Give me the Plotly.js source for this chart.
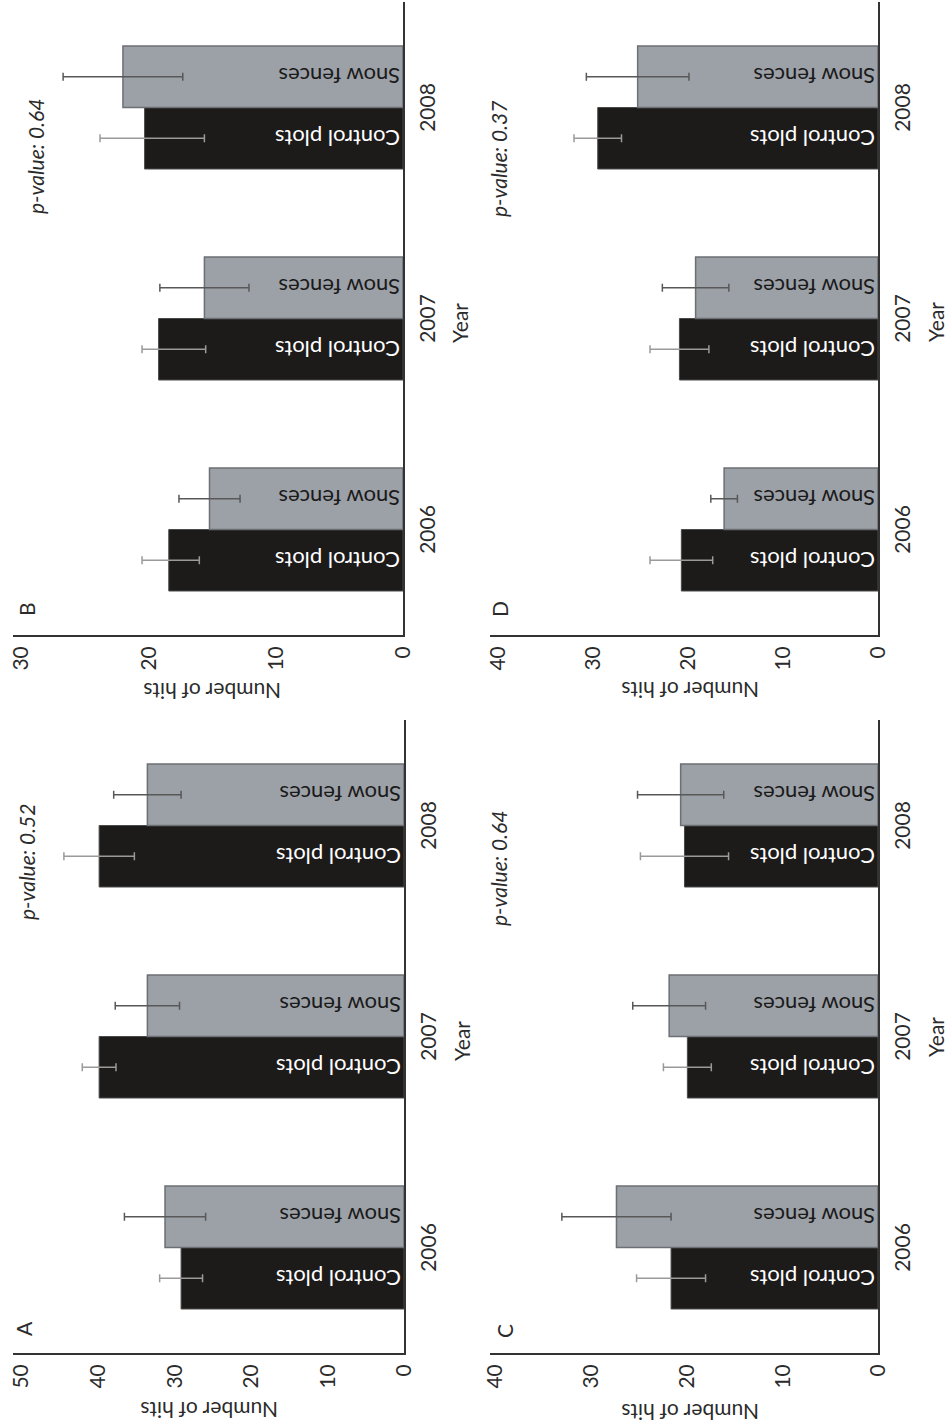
<!DOCTYPE html>
<html><head><meta charset="utf-8">
<script src="https://cdn.plot.ly/plotly-3.0.1.min.js"></script>
<style>
html,body{margin:0;padding:0;width:947px;height:1427px;overflow:hidden;background:#fff}
#wrap{position:absolute;left:0;top:0;width:1427px;height:947px;transform-origin:0 0;transform:rotate(-90deg) translateX(-1427px);}
#chart{width:1427px;height:947px}
</style></head><body>
<div id="wrap"><div id="chart"></div></div>
<script>
// ---- data ----
const years = ['2006', '2007', '2008'];
const seriesNames = ['Control plots', 'Snow fences'];

const A_control = [29.1, 39.8, 39.8];
const A_control_err_up = [2.8, 2.2, 4.6];
const A_control_err_down = [2.8, 2.2, 4.6];
const A_snow = [31.2, 33.5, 33.5];
const A_snow_err = [5.3, 4.2, 4.4];

const B_control = [18.4, 19.2, 20.3];
const B_control_err_up = [2.1, 1.3, 3.5];
const B_control_err_down = [2.4, 3.7, 4.7];
const B_snow = [15.2, 15.6, 22.0];
const B_snow_err = [2.4, 3.5, 4.7];

const C_control = [21.6, 19.9, 20.2];
const C_control_err_up = [3.6, 2.5, 4.6];
const C_control_err_down = [3.6, 2.5, 4.6];
const C_snow = [27.3, 21.8, 20.6];
const C_snow_err = [5.7, 3.8, 4.5];

const D_control = [20.7, 20.9, 29.5];
const D_control_err_up = [3.3, 3.1, 2.5];
const D_control_err_down = [3.3, 3.1, 2.5];
const D_snow = [16.2, 19.2, 25.3];
const D_snow_err = [1.4, 3.5, 5.4];

const panelLabels = ['A', 'B', 'C', 'D'];
const pValueLabels = ['p-value: 0.52', 'p-value: 0.64', 'p-value: 0.64', 'p-value: 0.37'];
const valueAxisTitle = 'Number of hits';
const categoryAxisTitle = 'Year';
const valueAxisMax = [51, 30.6, 40.5, 40.8];

// ---- layout geometry (unrotated figure 1427 x 947) ----
const W = 1427, H = 947;
const FONT = 'Lato, "Noto Sans", sans-serif';
const TXT = '#2b2b2b';
const panels = [
  {s:'',  ctrl:A_control, up:A_control_err_up, dn:A_control_err_down, snow:A_snow, se:A_snow_err,
   x0:74, x1:707, y0:404, letter:[98,24], pv:[565,26], yt:[386,461], nh:[16,209]},
  {s:'2', ctrl:B_control, up:B_control_err_up, dn:B_control_err_down, snow:B_snow, se:B_snow_err,
   x0:792, x1:1425, y0:403, letter:[818,26], pv:[1270,36], yt:[1104,459], nh:[736,212]},
  {s:'3', ctrl:C_control, up:C_control_err_up, dn:C_control_err_down, snow:C_snow, se:C_snow_err,
   x0:74, x1:707, y0:878, letter:[96,504], pv:[558,498], yt:[390,935], nh:[14,690]},
  {s:'4', ctrl:D_control, up:D_control_err_up, dn:D_control_err_down, snow:D_snow, se:D_snow_err,
   x0:792, x1:1425, y0:878, letter:[818,500], pv:[1268,498], yt:[1105,935], nh:[736,690]}
];
const pxPerUnit = [7.66, 12.73, 9.58, 9.5];

const traces = [];
const layout = {
  width: W, height: H,
  margin: {l:0, r:0, t:0, b:0},
  paper_bgcolor: '#fff', plot_bgcolor: '#fff',
  barmode: 'group', bargap: 0.417, bargroupgap: 0,
  showlegend: false,
  font: {family: FONT, color: TXT, size: 20},
  annotations: []
};

panels.forEach((p, i) => {
  const xa = 'x' + p.s, ya = 'y' + p.s;
  traces.push({
    type: 'bar', name: seriesNames[0], x: years, y: p.ctrl, xaxis: xa, yaxis: ya,
    marker: {color: '#1d1a1a', line: {color: '#4a4a4a', width: 1}},
    error_y: {type: 'data', symmetric: false, array: p.up, arrayminus: p.dn, color: '#9a9a9a', thickness: 1.5, width: 4},
    text: years.map(() => seriesNames[0]), textposition: 'inside', insidetextanchor: 'start',
    textangle: -90, constraintext: 'none', cliponaxis: false,
    textfont: {color: '#ffffff', size: 22, family: FONT}, hoverinfo: 'skip'
  });
  traces.push({
    type: 'bar', name: seriesNames[1], x: years, y: p.snow, xaxis: xa, yaxis: ya,
    marker: {color: '#9ca0a7', line: {color: '#6c6f74', width: 1.5}},
    error_y: {type: 'data', array: p.se, color: '#585858', thickness: 1.5, width: 4},
    text: years.map(() => seriesNames[1]), textposition: 'inside', insidetextanchor: 'start',
    textangle: -90, constraintext: 'none', cliponaxis: false,
    textfont: {color: '#1a1a1a', size: 22, family: FONT}, hoverinfo: 'skip'
  });
  const yTop = p.y0 - valueAxisMax[i] * pxPerUnit[i];
  layout['xaxis' + p.s] = {
    domain: [p.x0 / W, p.x1 / W], anchor: ya, type: 'category', range: [-0.5, 2.5],
    showline: true, linecolor: '#333', linewidth: 2, ticks: '', showgrid: false, zeroline: false,
    tickfont: {size: 21, color: TXT}, ticklabelstandoff: 5, fixedrange: true
  };
  layout['yaxis' + p.s] = {
    domain: [1 - p.y0 / H, 1 - yTop / H], anchor: xa, range: [0, valueAxisMax[i]],
    showline: true, linecolor: '#333', linewidth: 2, ticks: '', showgrid: false, zeroline: false,
    tick0: 0, dtick: 10, tickfont: {size: 21, color: TXT}, ticklabelstandoff: 5, fixedrange: true
  };
  const ann = (pos, text, extra) => Object.assign({
    xref: 'paper', yref: 'paper', x: pos[0] / W, y: 1 - pos[1] / H,
    xanchor: 'center', yanchor: 'middle', showarrow: false, text: text,
    font: {size: 21, color: TXT, family: FONT}
  }, extra || {});
  layout.annotations.push(ann(p.letter, panelLabels[i]));
  layout.annotations.push(ann(p.pv, '<i>' + pValueLabels[i] + '</i>'));
  layout.annotations.push(ann(p.yt, categoryAxisTitle));
  layout.annotations.push(ann(p.nh, valueAxisTitle, {textangle: -90}));
});

Plotly.newPlot('chart', traces, layout, {staticPlot: true, displayModeBar: false});
</script>
</body></html>
